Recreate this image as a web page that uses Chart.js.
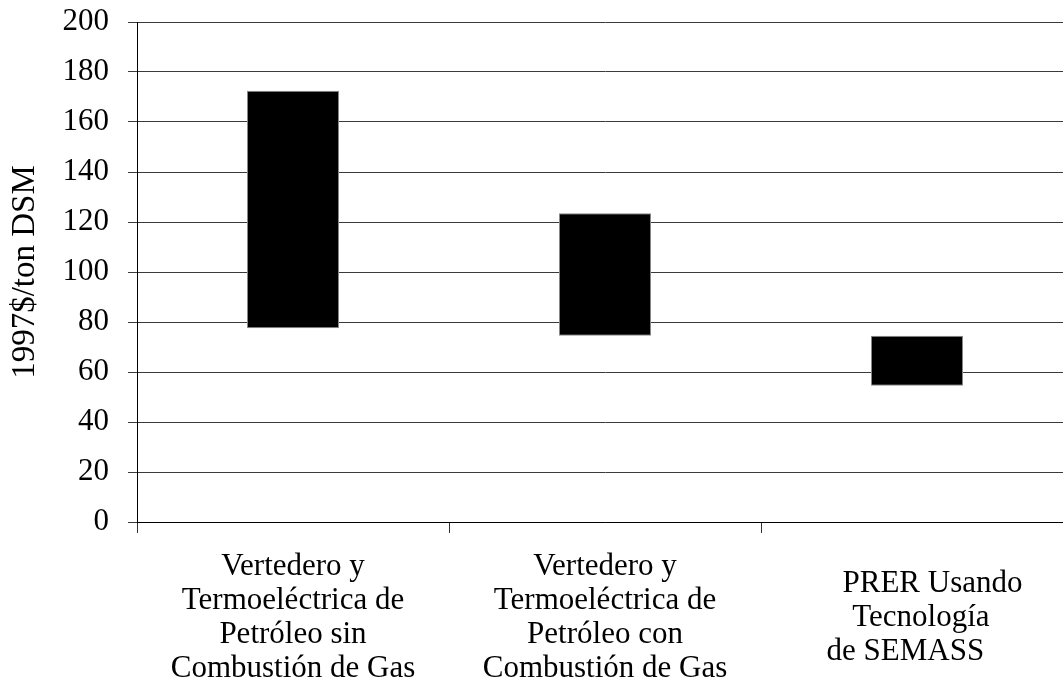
<!DOCTYPE html>
<html>
<head>
<meta charset="utf-8">
<script src="https://cdn.jsdelivr.net/npm/chart.js@4"></script>
<style>
  html, body { margin: 0; padding: 0; background: #fff; overflow: hidden; }
</style>
</head>
<body>
<canvas id="grafico" width="1074" height="677"></canvas>
<script>
// categorias (rótulos do eixo x, várias linhas)
const categorias = [
    ["Vertedero y", "Termoeléctrica de", "Petróleo sin", "Combustión de Gas"],
    ["Vertedero y", "Termoeléctrica de", "Petróleo con", "Combustión de Gas"],
    ["    PRER Usando", " Tecnología", "de SEMASS   "]
];
// faixa de custo: mínimo e máximo de cada barra
const costoMinimo = [77.5, 74.5, 54.5];
const costoMaximo = [172.5, 123.5, 74.5];
const tituloEixoY = "1997$/ton DSM";

const faixas = costoMinimo.map((v, i) => [v, costoMaximo[i]]);

const fonte = "'Liberation Serif', 'Times New Roman', serif";

const ctx = document.getElementById('grafico').getContext('2d');
const myChart = new Chart(ctx, {
    type: 'bar',
    data: {
        labels: categorias,
        datasets: [{
            label: tituloEixoY,
            data: faixas,
            backgroundColor: '#000000',
            borderColor: '#8a8a8a',
            borderWidth: 1,
            borderSkipped: false,
            categoryPercentage: 1,
            barPercentage: 0.295
        }]
    },
    options: {
        responsive: false,
        animation: false,
        layout: { padding: { top: 22, right: 1, left: 0, bottom: 0 } },
        plugins: {
            legend: { display: false },
            tooltip: { enabled: false }
        },
        scales: {
            x: {
                offset: true,
                border: { color: '#000', width: 1 },
                grid: {
                    offset: true,
                    drawOnChartArea: false,
                    drawTicks: true,
                    tickLength: 11,
                    color: '#333'
                },
                ticks: {
                    color: '#000',
                    maxRotation: 0,
                    autoSkip: false,
                    padding: 34,
                    crossAlign: 'center',
                    font: { family: fonte, size: 31, lineHeight: 1.1 }
                },
                afterFit: function (scale) {
                    scale.height = 155;
                    scale.paddingLeft = 0;
                    scale.paddingRight = 0;
                }
            },
            y: {
                min: 0,
                max: 200,
                border: { color: '#000', width: 1 },
                grid: {
                    color: '#3a3a3a',
                    lineWidth: 1,
                    tickLength: 9
                },
                ticks: {
                    stepSize: 20,
                    color: '#000',
                    padding: 19,
                    font: { family: fonte, size: 31 }
                },
                title: {
                    display: true,
                    text: tituloEixoY,
                    color: '#000',
                    padding: { top: 6, bottom: 0 },
                    font: { family: fonte, size: 33, weight: 'normal' }
                },
                afterFit: function (scale) {
                    scale.width = 137;
                    scale.paddingTop = 0;
                    scale.paddingBottom = 0;
                }
            }
        }
    }
});
</script>
</body>
</html>
